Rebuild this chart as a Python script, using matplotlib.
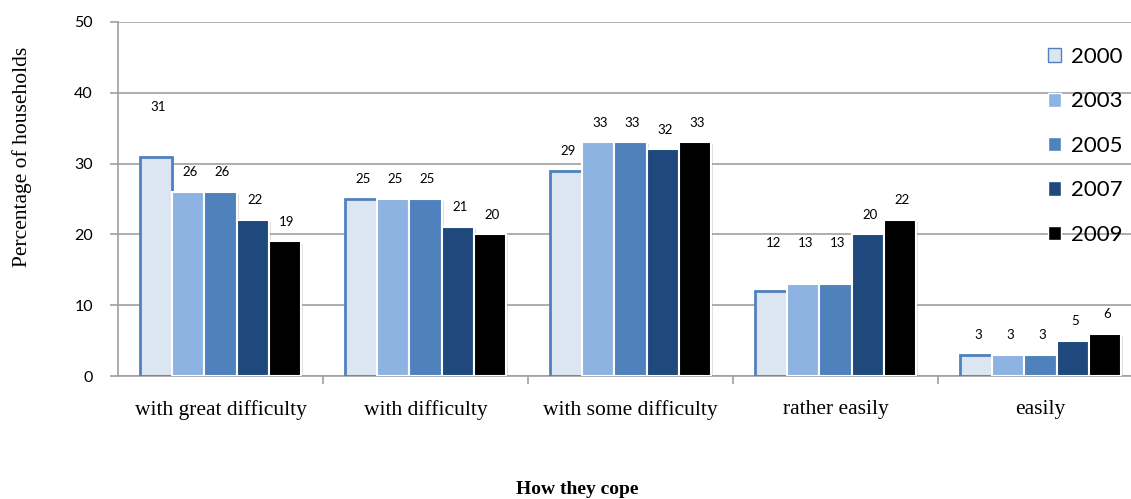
import numpy as np
import matplotlib
matplotlib.use("Agg")
import matplotlib.pyplot as plt
import matplotlib.patheffects as pe
from matplotlib.patches import Patch

categories = ["with great difficulty", "with difficulty", "with some difficulty",
              "rather easily", "easily"]
years = ["2000", "2003", "2005", "2007", "2009"]
values = {
    "2000": [31, 25, 29, 12, 3],
    "2003": [26, 25, 33, 13, 3],
    "2005": [26, 25, 33, 13, 3],
    "2007": [22, 21, 32, 20, 5],
    "2009": [19, 20, 33, 22, 6],
}
colors = ["#dce6f2", "#8db3e2", "#4f81bd", "#1f497d", "#000000"]

# labels that sit higher to stay clear of neighbours (year index, category index)
extra_lift = {(0, 0): 4.2, (0, 3): 4.0, (1, 3): 3.0, (2, 3): 3.0}

fig = plt.figure(figsize=(11.31, 4.99), dpi=100)
ax = fig.add_axes([118 / 1131, 123 / 499, 1025 / 1131, 354 / 499])

x = np.arange(len(categories))
width = 0.157
shadow = [pe.withSimplePatchShadow(offset=(1.5, -1.5), shadow_rgbFace="gray", alpha=0.25)]

for i, yr in enumerate(years):
    pos = x + (i - 2) * width
    if i == 0:
        bars = ax.bar(pos, values[yr], width, color=colors[i], edgecolor="#4f81bd",
                      linewidth=2, zorder=3)
    else:
        bars = ax.bar(pos, values[yr], width, color=colors[i], edgecolor="white",
                      linewidth=1.5, zorder=3)
    for b in bars:
        b.set_path_effects(shadow)
    for j, v in enumerate(values[yr]):
        ax.text(pos[j] + 0.01, v + 2.8 + extra_lift.get((i, j), 0), str(v), ha="center",
                va="center", fontsize=9.5, family="Lato", zorder=4)

ax.set_xlim(-0.5, 4.5)
ax.set_ylim(0, 50)
ax.set_yticks(range(0, 51, 10))
ax.yaxis.grid(True, color="#a0a0a0", linewidth=1.2, zorder=0)
ax.set_axisbelow(True)
for s in ["top", "right"]:
    ax.spines[s].set_visible(False)
for s in ["left", "bottom"]:
    ax.spines[s].set_color("#a0a0a0")
    ax.spines[s].set_linewidth(1.2)

ax.tick_params(axis="y", length=6, width=1.2, color="#a0a0a0", labelsize=11.5, pad=12)
for lab in ax.get_yticklabels():
    lab.set_family("Lato")

# category ticks sit on the group boundaries, labels at the group centres
ax.set_xticks(np.arange(0.5, 4.5, 1.0))
ax.set_xticklabels([])
ax.set_xticks(x, minor=True)
ax.set_xticklabels(categories, minor=True, family="Liberation Serif", fontsize=15.5)
ax.tick_params(axis="x", which="major", length=6, width=1.2, color="#a0a0a0")
ax.tick_params(axis="x", which="minor", length=0, pad=17)

ax.set_ylabel("Percentage of households", family="Liberation Serif", fontsize=15.5)
ax.yaxis.set_label_coords(-86 / 1025, 0.62)
fig.text(577 / 1131, 1 - 490 / 499, "How they cope", ha="center", va="center",
         family="Liberation Serif", fontweight="bold", fontsize=14)

handles = [Patch(facecolor=c, edgecolor="#4f81bd" if k == 0 else "white", linewidth=1)
           for k, c in enumerate(colors)]
fig.legend(handles, years, loc="upper left", bbox_to_anchor=(1028 / 1131, 1 - 27 / 499),
           frameon=False, prop={"family": "Lato", "size": 16}, handlelength=0.6,
           handleheight=0.6, handletextpad=0.45, labelspacing=1.1)

fig.savefig("out.png", dpi=100)
